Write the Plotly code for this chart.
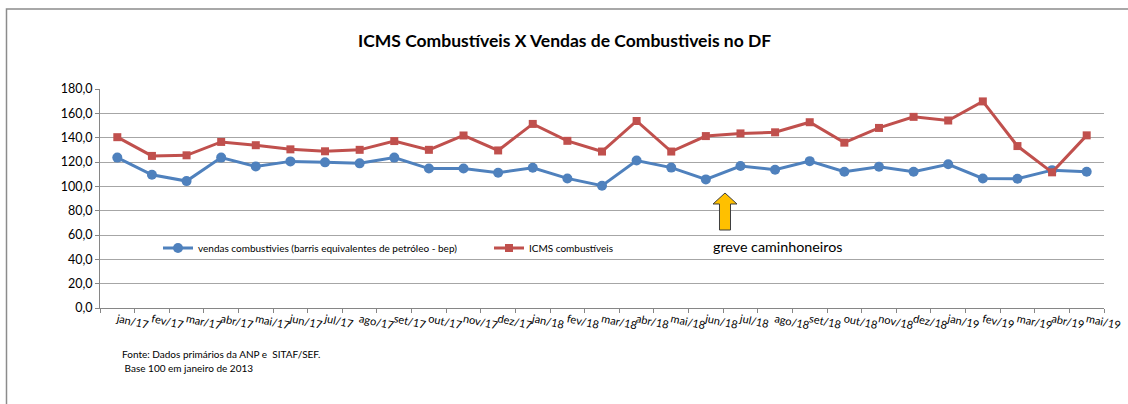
import plotly.graph_objects as go

months = ["jan/17", "fev/17", "mar/17", "abr/17", "mai/17", "jun/17", "jul/17", "ago/17", "set/17",
          "out/17", "nov/17", "dez/17", "jan/18", "fev/18", "mar/18", "abr/18", "mai/18", "jun/18",
          "jul/18", "ago/18", "set/18", "out/18", "nov/18", "dez/18", "jan/19", "fev/19", "mar/19",
          "abr/19", "mai/19"]

vendas = [123.6, 109.5, 104.3, 123.6, 116.4, 120.5, 119.7, 118.9, 123.6,
          114.6, 114.6, 111.2, 115.3, 106.5, 100.5, 121.2, 115.4, 105.7,
          116.7, 113.6, 120.7, 112.0, 116.1, 112.0, 118.1, 106.5, 106.3,
          113.3, 112.0]

icms = [140.4, 125.0, 125.5, 136.5, 133.8, 130.4, 128.8, 130.0, 137.2,
        130.0, 141.8, 129.5, 151.3, 137.4, 128.6, 153.7, 128.6, 141.3,
        143.5, 144.4, 152.7, 135.9, 148.0, 157.1, 154.1, 169.8, 133.1,
        111.5, 141.9]

y_ticks = [0, 20, 40, 60, 80, 100, 120, 140, 160, 180]

name_vendas = "vendas combustivies (barris equivalentes de petróleo - bep)"
name_icms = "ICMS combustíveis"
title_text = "ICMS Combustíveis X Vendas de Combustiveis no DF"
note_text = "greve caminhoneiros"
source_lines = ["Fonte: Dados primários da ANP e  SITAF/SEF.", " Base 100 em janeiro de 2013"]

W, H = 1128, 404
ML, MR, MT, MB = 100, 24, 89, 96
PW, PH = W - ML - MR, H - MT - MB


def px(xp):
    return (xp - ML) / PW


def py(yp):
    return (H - MB - yp) / PH


FONT = "Lato"
BLUE = "#4F81BD"
RED = "#C0504D"
GRID = "#A6A6A6"

fig = go.Figure()
fig.add_trace(go.Scatter(
    x=months, y=vendas, name=name_vendas, mode="lines+markers",
    line=dict(color=BLUE, width=3), marker=dict(symbol="circle", size=10, color=BLUE),
    legend="legend"))
fig.add_trace(go.Scatter(
    x=months, y=icms, name=name_icms, mode="lines+markers",
    line=dict(color=RED, width=3), marker=dict(symbol="square", size=8, color=RED),
    legend="legend2"))

# block arrow (pixel outline converted to paper coords)
arrow_px = [(725, 193), (713, 204), (719.5, 204), (719.5, 230), (730.5, 230), (730.5, 204), (737, 204)]
path = "M " + " L ".join(f"{px(a):.5f},{py(b):.5f}" for a, b in arrow_px) + " Z"

# outer chart frame: left and top edges only (right/bottom lie outside the picture)
frame_px = [(6.5, 412), (6.5, 9), (1140, 9)]
frame_path = "M " + " L ".join(f"{px(a):.5f},{py(b):.5f}" for a, b in frame_px)

shapes = [
    dict(type="path", xref="paper", yref="paper", path=path,
         fillcolor="#FFC000", line=dict(color="#3F3F3F", width=1), layer="above"),
    dict(type="path", xref="paper", yref="paper", path=frame_path,
         line=dict(color="#8C8C8C", width=1.5), layer="below"),
]

annotations = [
    dict(text=title_text, xref="paper", yref="paper", x=px(564), y=py(40),
         xanchor="center", yanchor="middle", showarrow=False,
         font=dict(family=FONT, size=17.5, color="#000000", weight="bold")),
    dict(text=note_text, xref="paper", yref="paper", x=px(711), y=py(246),
         xanchor="left", yanchor="middle", showarrow=False,
         font=dict(family=FONT, size=14.3, color="#000000")),
    dict(text=source_lines[0], xref="paper", yref="paper", x=px(120), y=py(354),
         xanchor="left", yanchor="middle", showarrow=False,
         font=dict(family=FONT, size=10, color="#000000")),
    dict(text=source_lines[1], xref="paper", yref="paper", x=px(120), y=py(368),
         xanchor="left", yanchor="middle", showarrow=False,
         font=dict(family=FONT, size=10, color="#000000")),
]

fig.update_layout(
    width=W, height=H,
    margin=dict(l=ML, r=MR, t=MT, b=MB, autoexpand=False),
    paper_bgcolor="white", plot_bgcolor="white",
    separators=",.",
    font=dict(family=FONT, color="#000000"),
    shapes=shapes, annotations=annotations,
    legend=dict(x=px(158), y=py(248), xanchor="left", yanchor="middle",
                orientation="h", itemwidth=30, bgcolor="rgba(0,0,0,0)",
                font=dict(family=FONT, size=10, color="#000000")),
    legend2=dict(x=px(489), y=py(248), xanchor="left", yanchor="middle",
                 orientation="h", itemwidth=30, bgcolor="rgba(0,0,0,0)",
                 font=dict(family=FONT, size=10, color="#000000")),
    showlegend=True,
)

fig.update_xaxes(
    type="category", categoryorder="array", categoryarray=months,
    range=[-0.5, len(months) - 0.5], autorange=False, automargin=False,
    tickson="boundaries", ticks="outside", ticklen=4, tickcolor="#868686",
    showline=True, linecolor="#868686", linewidth=1,
    showgrid=False, tickangle=12,
    tickfont=dict(family=FONT, size=11, color="#000000"),
)
fig.update_yaxes(
    range=[0, 180], tickvals=y_ticks, tickformat=".1f", automargin=False,
    ticks="outside", ticklen=4, tickcolor="#868686",
    showline=True, linecolor="#868686", linewidth=1,
    showgrid=True, gridcolor=GRID, gridwidth=1, zeroline=False,
    tickfont=dict(family=FONT, size=12.5, color="#000000"),
)

fig.write_html("out.html", config={"displayModeBar": False},
               post_script="document.body.style.margin='0px';"
                           "document.body.style.overflow='hidden';"
                           "document.documentElement.style.overflow='hidden';")
